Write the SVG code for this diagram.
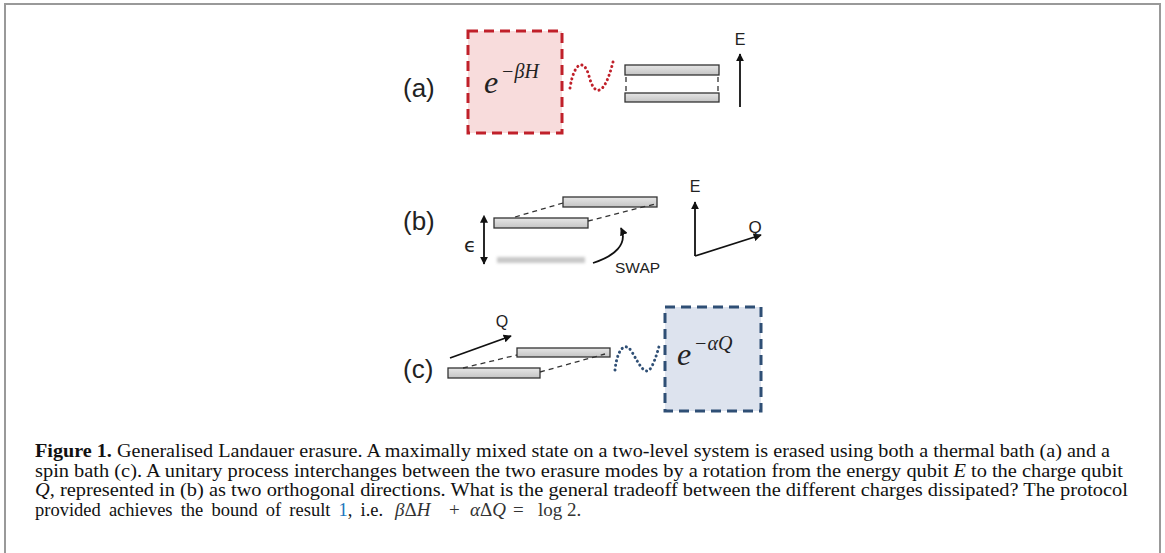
<svg xmlns="http://www.w3.org/2000/svg" width="1165" height="553" viewBox="0 0 1165 553">
<style>
.lbl{font-family:"Liberation Sans",Arial,sans-serif;fill:#222}
.bar{fill:url(#barg);stroke:#333;stroke-width:1.3}
.dash{fill:none;stroke:#333;stroke-width:1.3;stroke-dasharray:5 4}
.ax{fill:none;stroke:#111;stroke-width:1.8}
.math{font-family:"Liberation Serif","DejaVu Serif",serif;font-style:italic;fill:#222}
.cap{font-family:"Liberation Serif","Times New Roman",serif;font-size:18.5px;fill:#111}
.eq{font-family:"Liberation Serif","Times New Roman",serif;font-size:19px;fill:#333}
.it{font-style:italic}
</style>
<defs>
<linearGradient id="barg" x1="0" y1="0" x2="0" y2="1">
<stop offset="0" stop-color="#e6e6e6"/><stop offset="1" stop-color="#c4c4c4"/>
</linearGradient>
<marker id="ah" viewBox="0 0 10 10" refX="9" refY="5" markerWidth="4.5" markerHeight="4.5" orient="auto" markerUnits="strokeWidth">
<path d="M0,0 L10,5 L0,10 z" fill="#111"/>
</marker>
<marker id="ahs" viewBox="0 0 10 10" refX="1" refY="5" markerWidth="4.5" markerHeight="4.5" orient="auto-start-reverse" markerUnits="strokeWidth">
<path d="M0,0 L10,5 L0,10 z" fill="#111"/>
</marker>
<filter id="blur" x="-10%" y="-100%" width="120%" height="300%"><feGaussianBlur stdDeviation="1.5"/></filter>
</defs>
<rect x="5" y="4" width="1155" height="560" fill="#fff" stroke="#999" stroke-width="2"/>

<g id="panel-a">
<text class="lbl" x="403" y="97" font-size="26">(a)</text>
<g id="thermal-bath">
<rect x="468" y="31" width="94" height="102" fill="#f8dcdc" stroke="#c0202a" stroke-width="3" stroke-dasharray="10 6"/>
<text class="math" x="484" y="93" font-size="32">e</text>
<text class="math" x="501" y="78" font-size="20">−βH</text>
</g>
<g id="levels-a">
<rect class="bar" x="625" y="65" width="94" height="10"/>
<rect class="bar" x="625" y="93" width="94" height="9"/>
<line class="dash" x1="626" y1="77" x2="626" y2="92"/>
<line class="dash" x1="718" y1="77" x2="718" y2="92"/>
</g>
<g id="axis-a">
<line class="ax" x1="740" y1="107" x2="740" y2="54" marker-end="url(#ah)"/>
<text class="lbl" x="740" y="45" font-size="16" text-anchor="middle">E</text>
</g>
</g>

<g id="panel-b">
<text class="lbl" x="403" y="230" font-size="26">(b)</text>
<g id="levels-b">
<rect class="bar" x="563" y="197" width="94" height="10"/>
<rect class="bar" x="494" y="218" width="94" height="10"/>
<rect x="497" y="257" width="88" height="6" fill="#c8c8c8" filter="url(#blur)"/>
</g>
<g id="epsilon">
<line class="ax" x1="484" y1="222" x2="484" y2="264" marker-start="url(#ahs)" marker-end="url(#ah)"/>
<text x="464" y="252" font-size="20" font-family="'DejaVu Sans',sans-serif" fill="#222">ϵ</text>
</g>
<g id="swap">
<path class="ax" d="M593,263 C615,256 628,244 621,228" stroke-width="2.6" marker-end="url(#ah)"/>
<text class="lbl" x="615" y="273" font-size="15.5">SWAP</text>
</g>
<g id="axes-b">
<line class="ax" x1="695" y1="256" x2="695" y2="202" marker-end="url(#ah)"/>
<line class="ax" x1="695" y1="256" x2="761" y2="235" marker-end="url(#ah)"/>
<text class="lbl" x="695" y="192" font-size="16" text-anchor="middle">E</text>
<text class="lbl" x="755" y="233" font-size="17" text-anchor="middle">Q</text>
</g>
</g>

<g id="panel-c">
<text class="lbl" x="403" y="378" font-size="26">(c)</text>
<g id="axis-c">
<line class="ax" x1="450" y1="358" x2="511" y2="336" marker-end="url(#ah)"/>
<text class="lbl" x="502" y="327" font-size="16" text-anchor="middle">Q</text>
</g>
<g id="levels-c">
<rect class="bar" x="517" y="348" width="93" height="9"/>
<rect class="bar" x="448" y="368" width="92" height="10"/>
</g>
<g id="spin-bath">
<rect x="665" y="307" width="96" height="104" fill="#dde3ee" stroke="#2f4f75" stroke-width="3" stroke-dasharray="10 6"/>
<text class="math" x="677" y="365" font-size="32">e</text>
<text class="math" x="694" y="350" font-size="20">−αQ</text>
</g>
</g>

<g id="connectors">
<path d="M570,88 C574,62 584,58 589,76 C594,96 604,98 613,62" fill="none" stroke="#c0202a" stroke-width="3" stroke-linecap="round" stroke-dasharray="0.1 4.5"/>
<line class="dash" x1="515" y1="217" x2="563" y2="203"/>
<line class="dash" x1="588" y1="221" x2="655" y2="204"/>
<line class="dash" x1="463" y1="368" x2="517" y2="355"/>
<line class="dash" x1="540" y1="372" x2="605" y2="354"/>
<path d="M615,370 C617,350 625,340 632,352 C640,366 646,378 652,366 C656,358 658,350 660,343" fill="none" stroke="#2f4f75" stroke-width="3" stroke-linecap="round" stroke-dasharray="0.1 4.5"/>
</g>

<g id="caption">
<text class="cap" x="35" y="457" textLength="1075" lengthAdjust="spacingAndGlyphs"><tspan font-weight="bold">Figure 1.</tspan> Generalised Landauer erasure. A maximally mixed state on a two-level system is erased using both a thermal bath (a) and a</text>
<text class="cap" x="35" y="476.5" textLength="1088" lengthAdjust="spacingAndGlyphs">spin bath (c). A unitary process interchanges between the two erasure modes by a rotation from the energy qubit <tspan class="it">E</tspan> to the charge qubit</text>
<text class="cap" x="35" y="496" textLength="1093" lengthAdjust="spacingAndGlyphs"><tspan class="it">Q</tspan>, represented in (b) as two orthogonal directions. What is the general tradeoff between the different charges dissipated? The protocol</text>
<text class="cap" x="35" y="515.5" word-spacing="3.5">provided achieves the bound of result <tspan fill="#1a75bc">1</tspan>, i.e.</text>
<text class="eq" x="395" y="515.5"><tspan class="it">β</tspan>Δ<tspan class="it">H</tspan></text>
<text class="eq" x="449" y="515.5">+</text>
<text class="eq" x="470" y="515.5"><tspan class="it">α</tspan>Δ<tspan class="it">Q</tspan></text>
<text class="eq" x="513" y="515.5">=</text>
<text class="eq" x="538" y="515.5">log 2.</text>
</g>
</svg>
